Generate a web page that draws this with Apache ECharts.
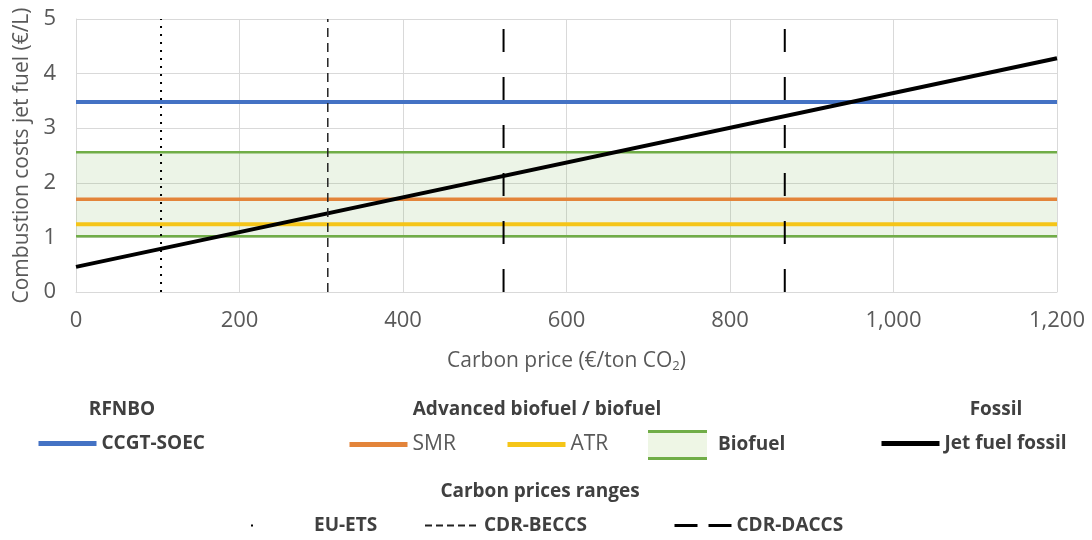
<!DOCTYPE html>
<html><head><meta charset="utf-8">
<script src="https://cdn.jsdelivr.net/npm/echarts@6/dist/echarts.min.js"></script>
<style>html,body{margin:0;padding:0;background:#fff}#c{width:1092px;height:540px}</style>
</head><body><div id="c"></div>
<script>
// ---- data ----
const xTicks = [0, 200, 400, 600, 800, 1000, 1200];
const yTicks = [0, 1, 2, 3, 4, 5];
const priceRange = [0, 1200];          // carbon price span (€/ton CO2)
const ccgtSoec = [3.48, 3.48];         // RFNBO
const smr = [1.70, 1.70];
const atr = [1.24, 1.24];
const biofuelLow = [1.02, 1.02];
const biofuelHigh = [2.56, 2.56];
const jetFuelFossil = [0.46, 4.28];
const euEts = [104];                   // carbon price ranges (€/ton CO2)
const cdrBeccs = [308];
const cdrDaccs = [523, 867];
const costRange = [0, 5];

// ---- helpers ----
const FONT = '"Open Sans", "Liberation Sans", sans-serif';
const TXT = '#404040';
const GREY = '#595959';
const hline = arr => priceRange.map((x, i) => [x, arr[i]]);
const vline = x => costRange.map(y => [x, y]);

const C = { blue: '#4472C4', orange: '#E3843A', yellow: '#F5C518', green: '#70AD47', black: '#000000' };

function lineSeries(name, data, color, width, type, z) {
  return { name, type: 'line', data, symbol: 'none', silent: true, animation: false,
    lineStyle: { color, width, type: type || 'solid', cap: 'butt' }, itemStyle: { color }, z: z || 2 };
}

const series = [
  Object.assign(lineSeries('Biofuel', hline(biofuelLow), C.green, 2.5, 'solid', 2), {
    markArea: { silent: true, itemStyle: { color: 'rgba(112,173,71,0.13)' },
      data: [[{ yAxis: biofuelLow[0] }, { yAxis: biofuelHigh[0] }]] }
  }),
  lineSeries('Biofuel', hline(biofuelHigh), C.green, 2.5, 'solid', 2),
  lineSeries('ATR', hline(atr), C.yellow, 4, 'solid', 3),
  lineSeries('SMR', hline(smr), C.orange, 3.5, 'solid', 3),
  lineSeries('CCGT-SOEC', hline(ccgtSoec), C.blue, 4, 'solid', 3),
  lineSeries('Jet fuel fossil', hline(jetFuelFossil), C.black, 4, 'solid', 4),
  lineSeries('EU-ETS', vline(euEts[0]), '#000', 2, [2, 6], 5),
  lineSeries('CDR-BECCS', vline(cdrBeccs[0]), '#222', 1.5, [9, 6], 5),
  ...cdrDaccs.map(x => lineSeries('CDR-DACCS', vline(x), '#000', 2, [23, 25], 5))
];

function leg(name, left, top, opts) {
  return Object.assign({
    data: [name], left, top, padding: 0, itemWidth: 58, itemHeight: 14, itemGap: 0,
    selectedMode: false, itemStyle: { opacity: 0 },
    textStyle: { fontFamily: FONT, fontSize: 19, fontWeight: 'bold', color: TXT }
  }, opts || {});
}

const option = {
  backgroundColor: '#fff',
  animation: false,
  grid: { left: 76, right: 35, top: 19, bottom: 248, containLabel: false },
  xAxis: {
    type: 'value', min: xTicks[0], max: xTicks[xTicks.length - 1], interval: 200,
    name: '{a|Carbon price (€/ton CO}{s|2}{a|)}', nameLocation: 'middle', nameGap: 58,
    nameTextStyle: { rich: { a: { fontFamily: FONT, fontSize: 21, color: GREY },
                             s: { fontFamily: FONT, fontSize: 13, color: GREY, verticalAlign: 'bottom', padding: [10, 0, 0, 0] } } },
    axisLine: { show: true, lineStyle: { color: '#D9D9D9', width: 1 } },
    axisTick: { show: false },
    splitLine: { show: true, lineStyle: { color: '#D9D9D9', width: 1 } },
    axisLabel: { margin: 18, fontFamily: FONT, fontSize: 22, color: GREY,
      formatter: v => v.toLocaleString('en-US') }
  },
  yAxis: {
    type: 'value', min: yTicks[0], max: yTicks[yTicks.length - 1], interval: 1,
    name: 'Combustion costs jet fuel (€/L)', nameLocation: 'middle', nameGap: 43,
    nameTextStyle: { fontFamily: FONT, fontSize: 21, color: GREY },
    axisLine: { show: true, lineStyle: { color: '#D9D9D9', width: 1 } },
    axisTick: { show: false },
    splitLine: { show: true, lineStyle: { color: '#D9D9D9', width: 1 } },
    axisLabel: { margin: 20, fontFamily: FONT, fontSize: 22, color: GREY }
  },
  legend: [
    leg('CCGT-SOEC', 36, 434, { lineStyle: { width: 5 } }),
    leg('SMR', 347, 434, { lineStyle: { width: 5 }, textStyle: { fontFamily: FONT, fontSize: 21, color: GREY } }),
    leg('ATR', 505, 434, { lineStyle: { width: 5 }, textStyle: { fontFamily: FONT, fontSize: 21, color: GREY } }),
    leg('Biofuel', 648, 430, { itemWidth: 59, itemHeight: 30, icon: 'rect',
      itemStyle: { color: '#EEF6E5', borderWidth: 0 }, textStyle: { fontFamily: FONT, fontSize: 19, fontWeight: 'bold', color: TXT, padding: [0, 0, 0, 6] } }),
    leg('Biofuel', 648, 430, { itemWidth: 59, itemHeight: 30,
      icon: 'path://M0,0H59V3H0Z M0,27H59V30H0Z', itemStyle: { color: C.green },
      formatter: () => '' }),
    leg('Jet fuel fossil', 879, 434, { lineStyle: { width: 5 } }),
    leg('EU-ETS', 250, 516, { lineStyle: { type: [2, 200], width: 2 } }),
    leg('CDR-BECCS', 424, 516, { itemWidth: 54, lineStyle: { type: [7, 4], width: 2 } }),
    leg('CDR-DACCS', 673, 516, { itemWidth: 57, lineStyle: { type: [23, 11], width: 3 } })
  ],
  graphic: [
    { type: 'text', x: 122, y: 410, style: { text: 'RFNBO', font: 'bold 19px ' + FONT, fill: TXT, align: 'center', verticalAlign: 'middle' } },
    { type: 'text', x: 537, y: 410, style: { text: 'Advanced biofuel / biofuel', font: 'bold 19px ' + FONT, fill: TXT, align: 'center', verticalAlign: 'middle' } },
    { type: 'text', x: 996, y: 410, style: { text: 'Fossil', font: 'bold 19px ' + FONT, fill: TXT, align: 'center', verticalAlign: 'middle' } },
    { type: 'text', x: 540, y: 492, style: { text: 'Carbon prices ranges', font: 'bold 19px ' + FONT, fill: TXT, align: 'center', verticalAlign: 'middle' } }
  ],
  series
};

const chart = echarts.init(document.getElementById('c'), null, { renderer: 'canvas' });
chart.setOption(option);
</script>
</body></html>
